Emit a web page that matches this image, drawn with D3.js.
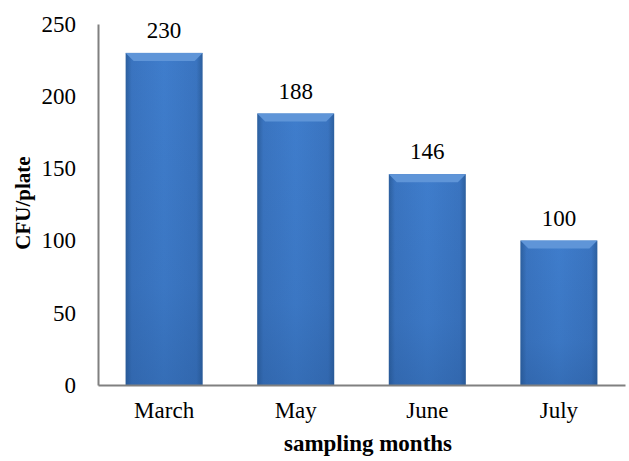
<!DOCTYPE html>
<html>
<head>
<meta charset="utf-8">
<script src="https://cdn.jsdelivr.net/npm/d3@7"></script>
<style>
  body { margin: 0; background: #fff; }
  svg text { font-family: "Liberation Serif", "Times New Roman", serif !important; fill: #000; }
</style>
</head>
<body>
<div id="d3-container"></div>
<script>
// chart data
const months = ['March', 'May', 'June', 'July'];
const cfu = [230, 188, 146, 100];
const yTicks = [0, 50, 100, 150, 200, 250];

function drawChart() {
    const width = 629;
    const height = 461;
    const margin = { top: 24, bottom: 76, left: 98, right: 4 };

    const svg = d3.select('#d3-container')
        .append('svg')
        .attr('width', width)
        .attr('height', height);

    // gradients for the bevelled bars
    const defs = svg.append('defs');
    const side = defs.append('linearGradient').attr('id', 'barSide')
        .attr('x1', 0).attr('x2', 1).attr('y1', 0).attr('y2', 0);
    side.append('stop').attr('offset', '0%').attr('stop-color', '#2c5f9e');
    side.append('stop').attr('offset', '8%').attr('stop-color', '#3a74c0');
    side.append('stop').attr('offset', '50%').attr('stop-color', '#3f7dcc');
    side.append('stop').attr('offset', '92%').attr('stop-color', '#3a74c0');
    side.append('stop').attr('offset', '100%').attr('stop-color', '#2c5f9e');

    const shade = defs.append('linearGradient').attr('id', 'barShade')
        .attr('x1', 0).attr('x2', 0).attr('y1', 0).attr('y2', 1);
    shade.append('stop').attr('offset', '0%').attr('stop-color', '#1e4a85').attr('stop-opacity', 0);
    shade.append('stop').attr('offset', '70%').attr('stop-color', '#1e4a85').attr('stop-opacity', 0.12);
    shade.append('stop').attr('offset', '100%').attr('stop-color', '#1e4a85').attr('stop-opacity', 0.3);

    // x scale
    const x = d3.scaleBand()
        .domain(months)
        .range([margin.left, width - margin.right])
        .paddingInner(0.415)
        .paddingOuter(0.21);
    // y scale
    const y = d3.scaleLinear()
        .domain([0, 250])
        .range([height - margin.bottom, margin.top]);

    const data = months.map((m, i) => ({ month: m, value: cfu[i] }));

    const bars = svg.append('g').selectAll('g')
        .data(data)
        .join('g');

    bars.append('rect')
        .attr('x', d => x(d.month))
        .attr('y', d => y(d.value))
        .attr('width', x.bandwidth())
        .attr('height', d => y(0) - y(d.value))
        .attr('fill', 'url(#barSide)');

    bars.append('rect')
        .attr('x', d => x(d.month))
        .attr('y', d => y(d.value))
        .attr('width', x.bandwidth())
        .attr('height', d => y(0) - y(d.value))
        .attr('fill', 'url(#barShade)');

    // top bevel
    const bev = 8;
    bars.append('path')
        .attr('fill', '#5f95d8')
        .attr('d', d => {
            const x0 = x(d.month), x1 = x0 + x.bandwidth(), t = y(d.value);
            return `M${x0},${t}L${x1},${t}L${x1 - bev},${t + bev}L${x0 + bev},${t + bev}Z`;
        });

    // value labels
    bars.append('text')
        .attr('x', d => x(d.month) + x.bandwidth() / 2)
        .attr('y', d => y(d.value) - 15)
        .attr('text-anchor', 'middle')
        .style('font-size', '23px')
        .text(d => d.value);

    // y axis
    const yAxis = svg.append('g')
        .attr('transform', `translate(${margin.left},0)`)
        .call(d3.axisLeft(y).tickValues(yTicks).tickSize(0).tickPadding(22));
    yAxis.select('.domain').attr('stroke', '#808080').attr('stroke-width', 2);
    yAxis.selectAll('text').style('font-size', '23px');

    // x axis
    const xAxis = svg.append('g')
        .attr('transform', `translate(0,${height - margin.bottom})`)
        .call(d3.axisBottom(x).tickSize(0).tickPadding(17));
    xAxis.select('.domain').attr('stroke', '#808080').attr('stroke-width', 2);
    xAxis.selectAll('text').style('font-size', '23px');

    // axis titles
    svg.append('text')
        .attr('x', 368)
        .attr('y', 451)
        .attr('text-anchor', 'middle')
        .style('font-size', '23px')
        .style('font-weight', 'bold')
        .text('sampling months');

    svg.append('text')
        .attr('transform', 'translate(30,203) rotate(-90)')
        .attr('text-anchor', 'middle')
        .style('font-size', '21px')
        .style('font-weight', 'bold')
        .text('CFU/plate');
}

drawChart();
</script>
</body>
</html>
